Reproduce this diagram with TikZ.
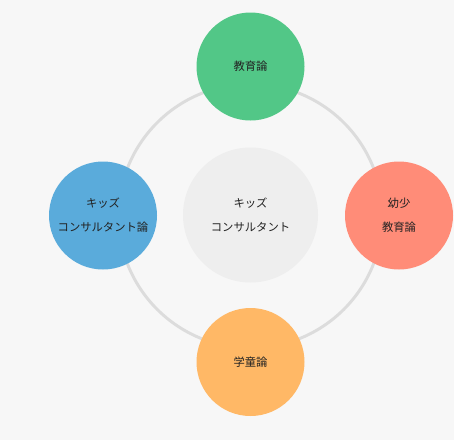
\documentclass[tikz,border=0pt]{standalone}
\usepackage{fontspec}
\newfontfamily\jp{Noto Sans CJK JP}
\definecolor{bgc}{HTML}{F7F7F7}
\definecolor{ringc}{HTML}{DCDCDC}
\definecolor{centerc}{HTML}{EEEEEE}
\definecolor{greenc}{HTML}{52C787}
\definecolor{bluec}{HTML}{5AABDB}
\definecolor{redc}{HTML}{FF8C78}
\definecolor{orangec}{HTML}{FFB866}
\definecolor{txtc}{HTML}{222222}
\begin{document}
\begin{tikzpicture}[x=0.75pt,y=-0.75pt,
  bubble/.style={circle,minimum size=108*0.75pt,inner sep=0pt,align=center,
    font=\jp\fontsize{8.5pt}{18pt}\selectfont,text=txtc},
  hub/.style={circle,minimum size=135*0.75pt,inner sep=0pt,align=center,fill=centerc,
    font=\jp\fontsize{8.5pt}{18pt}\selectfont,text=txtc}]
\fill[bgc] (0,0) rectangle (454,440);
\useasboundingbox (0,0) rectangle (454,440);
\coordinate (c) at (250.5,216);
\draw[ringc,line width=2.2pt] (c) circle[radius=132*0.75pt];
\node[hub] (hub) at (250.5,215) {キッズ\\コンサルタント};
\node[bubble,fill=greenc] (top) at (250.5,66.5) {教育論};
\node[bubble,fill=bluec] (left) at (103,215.5) {キッズ\\コンサルタント論};
\node[bubble,fill=redc] (right) at (399,215.5) {幼少\\教育論};
\node[bubble,fill=orangec] (bottom) at (250.5,362) {学童論};
\end{tikzpicture}
\end{document}
